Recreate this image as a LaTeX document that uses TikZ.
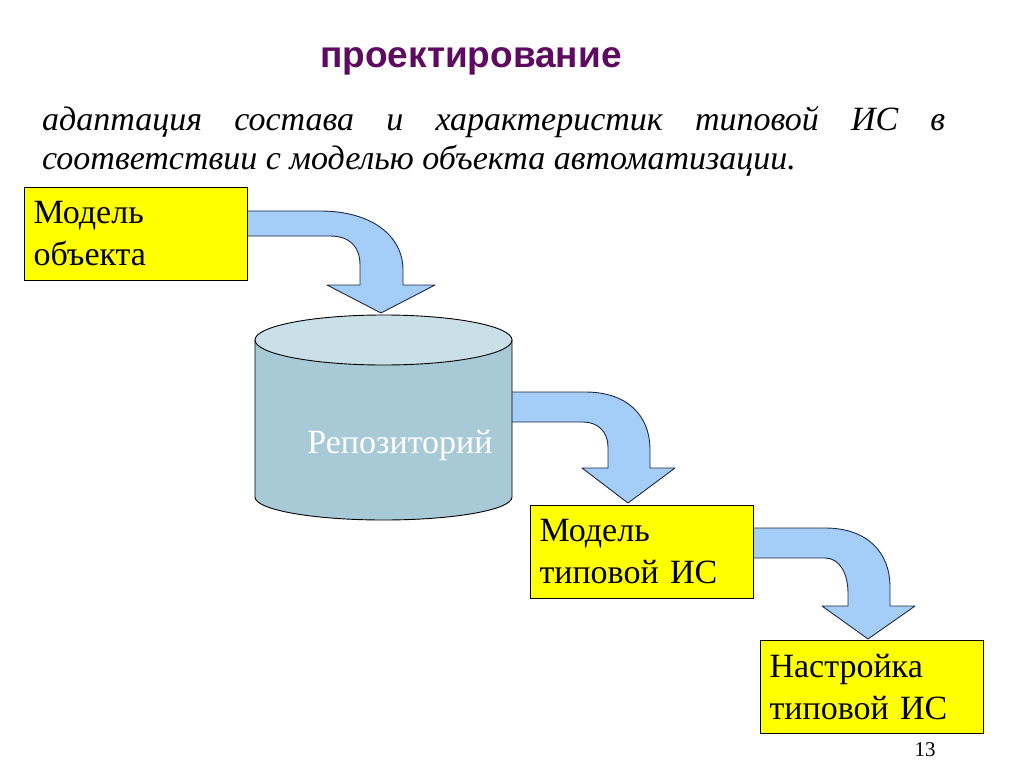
\documentclass[tikz,border=0pt]{standalone}
\usepackage{fontspec}
\setmainfont{Liberation Serif}
\newfontfamily\titlefont{Liberation Sans}
\definecolor{titlepurple}{HTML}{5E0A60}
\definecolor{boxyellow}{HTML}{FFFF00}
\definecolor{arrowblue}{HTML}{A4CDF7}
\definecolor{arrowline}{HTML}{1F2A44}
\definecolor{cylside}{HTML}{A7CAD6}
\definecolor{cyltop}{HTML}{C9E0E8}
\tikzset{
  ybox/.style={draw=black, line width=1pt, fill=boxyellow, minimum width=221pt, minimum height=93pt,
    text width=205pt, align=left, inner xsep=9pt, font=\fontsize{34}{42}\selectfont, anchor=north west},
  blockarrow/.style={fill=arrowblue, draw=arrowline, line width=0.9pt, line join=round},
  cylinder body/.style={fill=cylside, draw=black, line width=0.9pt},
  cylinder lid/.style={fill=cyltop, draw=black, line width=0.9pt},
}
\begin{document}
\begin{tikzpicture}[x=1pt,y=-1pt]
\useasboundingbox (0,0) rectangle (1024,767);
% title
\node[font=\titlefont\bfseries\fontsize{37}{44}\selectfont, text=titlepurple] (title) at (471,61) {проектирование};
% paragraph
\node[anchor=base west, inner sep=0pt, font=\itshape\fontsize{34}{40}\selectfont] (line1) at (42,131)
  {\makebox[903pt][s]{адаптация состава и характеристик типовой ИС в}};
\node[anchor=base west, inner sep=0pt, font=\itshape\fontsize{34}{40}\selectfont] (line2) at (42,170)
  {соответствии с моделью объекта автоматизации.};
% arrows
\draw[blockarrow] (245,211) -- (320,211) .. controls (372,211) and (403,236) .. (403,270) -- (403,285)
  -- (435,285) -- (381,313) -- (327,285) -- (360,285) -- (360,265) .. controls (360,247) and (350,236) .. (330,236)
  -- (245,236) -- cycle;
\draw[blockarrow] (505,392) -- (585,392) .. controls (627,392) and (650,415) .. (650,450) -- (650,468)
  -- (675,468) -- (628,503) -- (582,468) -- (608,468) -- (608,447) .. controls (608,432) and (598,422) .. (583,422)
  -- (505,422) -- cycle;
\draw[blockarrow] (752,528) -- (825,528) .. controls (867,528) and (890,552) .. (890,587) -- (890,606)
  -- (915,606) -- (868,639) -- (822,606) -- (848,606) -- (848,593) .. controls (848,574) and (840,558) .. (825,558)
  -- (752,558) -- cycle;
% cylinder
\draw[cylinder body] (255,340) -- (255,497)
  .. controls (255,509.7) and (312.5,520) .. (383.5,520)
  .. controls (454.5,520) and (512,509.7) .. (512,497) -- (512,340) -- cycle;
\draw[cylinder lid] (255,340) .. controls (255,326.2) and (312.5,315) .. (383.5,315)
  .. controls (454.5,315) and (512,326.2) .. (512,340)
  .. controls (512,353.8) and (454.5,365) .. (383.5,365)
  .. controls (312.5,365) and (255,353.8) .. (255,340) -- cycle;
\node[text=white, font=\fontsize{34}{40}\selectfont] (repo) at (400,445) {Репозиторий};
% boxes
\node[ybox] (b1) at (24,187) {Модель\\объекта};
\node[ybox] (b2) at (530,505) {Модель\\типовой ИС};
\node[ybox] (b3) at (760,640) {Настройка\\типовой ИС};
% page number
\node[font=\fontsize{21}{24}\selectfont] (page) at (925,750) {13};
\end{tikzpicture}
\end{document}
